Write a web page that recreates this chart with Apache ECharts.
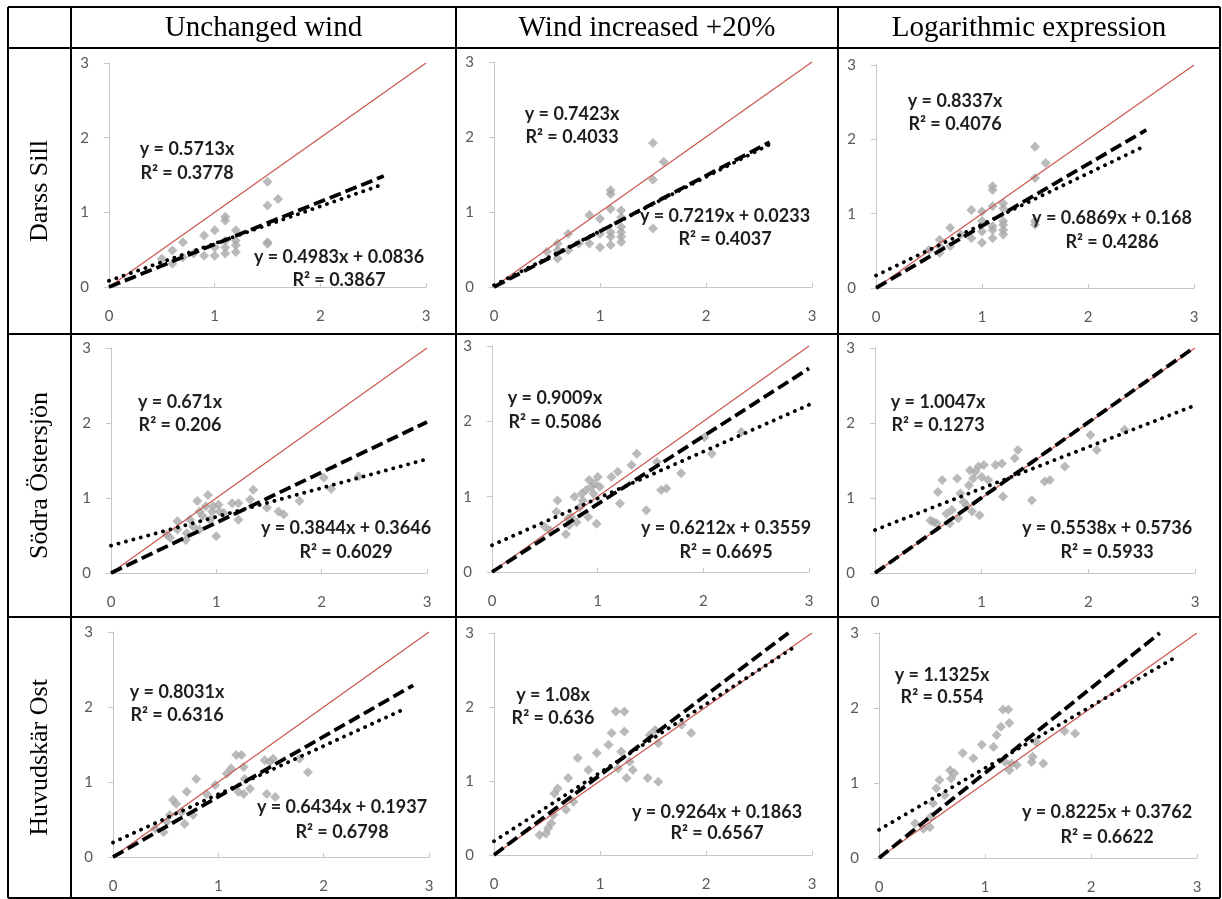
<!DOCTYPE html>
<html><head><meta charset="utf-8">
<script src="https://cdn.jsdelivr.net/npm/echarts@6/dist/echarts.min.js"></script>
<style>html,body{margin:0;padding:0;background:#fff}#c{width:1222px;height:899px}</style>
</head><body><div id="c"></div>
<script>
// ---------- data ----------
const columnTitles = ['Unchanged wind', 'Wind increased +20%', 'Logarithmic expression'];
const rowTitles = ['Darss Sill', 'Södra Östersjön', 'Huvudskär Ost'];
const axisTicks = [0, 1, 2, 3];

const darssUnchanged = [[0.5,0.38],[0.6,0.49],[0.6,0.31],[0.7,0.60],[0.7,0.40],[0.8,0.45],[0.9,0.69],[0.9,0.42],[1.0,0.76],[1.0,0.42],[1.0,0.53],[1.1,0.94],[1.1,0.89],[1.1,0.62],[1.1,0.53],[1.1,0.45],[1.2,0.76],[1.2,0.62],[1.2,0.56],[1.2,0.47],[1.5,1.41],[1.5,1.09],[1.5,0.60],[1.5,0.58],[1.6,1.18]];
const darssWind20 = [[0.5,0.47],[0.6,0.58],[0.6,0.38],[0.6,0.49],[0.7,0.71],[0.7,0.49],[0.8,0.58],[0.9,0.96],[0.9,0.58],[1.0,0.91],[1.0,0.71],[1.0,0.53],[1.1,1.29],[1.1,1.24],[1.1,1.04],[1.1,0.73],[1.1,0.67],[1.1,0.56],[1.2,1.02],[1.2,0.93],[1.2,0.80],[1.2,0.73],[1.2,0.67],[1.2,0.60],[1.5,1.92],[1.5,1.43],[1.5,0.78],[1.6,1.67]];
const darssLog = [[0.5,0.51],[0.6,0.65],[0.6,0.47],[0.6,0.56],[0.7,0.81],[0.7,0.56],[0.8,0.72],[0.9,1.05],[0.9,0.67],[1.0,1.03],[1.0,0.90],[1.0,0.76],[1.0,0.61],[1.1,1.37],[1.1,1.32],[1.1,1.10],[1.1,0.83],[1.1,0.78],[1.1,0.67],[1.2,1.14],[1.2,1.07],[1.2,0.90],[1.2,0.85],[1.2,0.78],[1.2,0.72],[1.5,1.90],[1.5,1.48],[1.5,0.90],[1.5,0.85],[1.6,1.68]];

const sodraUnchanged = [[0.53,0.51],[0.56,0.47],[0.63,0.69],[0.63,0.58],[0.71,0.44],[0.72,0.53],[0.75,0.71],[0.78,0.62],[0.82,0.96],[0.84,0.82],[0.84,0.58],[0.87,0.76],[0.90,0.89],[0.92,1.04],[0.94,0.71],[0.96,0.82],[0.97,0.89],[1.00,0.49],[1.02,0.91],[1.03,0.82],[1.07,0.80],[1.15,0.93],[1.21,0.71],[1.21,0.93],[1.32,0.98],[1.35,1.11],[1.48,0.87],[1.59,0.82],[1.64,0.78],[1.79,0.96],[2.02,1.27],[2.09,1.12],[2.35,1.29]];
const sodraWind20 = [[0.50,0.60],[0.55,0.55],[0.61,0.80],[0.62,0.95],[0.70,0.50],[0.72,0.71],[0.73,0.62],[0.75,0.73],[0.78,1.00],[0.80,0.66],[0.83,0.86],[0.85,1.04],[0.86,0.95],[0.89,1.09],[0.91,0.73],[0.92,1.22],[0.94,1.13],[0.96,1.04],[0.97,1.17],[0.99,0.64],[1.00,1.26],[1.02,1.13],[1.13,1.26],[1.19,1.33],[1.21,0.91],[1.32,1.42],[1.37,1.57],[1.46,0.82],[1.56,1.46],[1.60,1.09],[1.65,1.11],[1.79,1.31],[2.01,1.79],[2.08,1.57],[2.36,1.86]];
const sodraLog = [[0.52,0.70],[0.55,0.68],[0.58,0.66],[0.59,1.08],[0.63,1.24],[0.67,0.79],[0.70,0.66],[0.72,0.84],[0.77,1.26],[0.78,0.73],[0.80,1.06],[0.83,0.95],[0.86,0.90],[0.88,1.17],[0.89,1.37],[0.91,0.82],[0.92,1.26],[0.94,1.35],[0.97,1.42],[0.98,0.77],[1.00,1.28],[1.02,1.44],[1.06,1.24],[1.13,1.44],[1.19,1.46],[1.20,1.02],[1.31,1.53],[1.34,1.64],[1.47,0.97],[1.59,1.22],[1.64,1.24],[1.78,1.42],[2.02,1.84],[2.08,1.64],[2.34,1.91]];

const huvudUnchanged = [[0.40,0.38],[0.48,0.33],[0.51,0.47],[0.54,0.56],[0.57,0.76],[0.60,0.71],[0.65,0.60],[0.68,0.44],[0.70,0.87],[0.76,0.56],[0.79,1.04],[0.89,0.84],[0.97,0.96],[1.08,1.11],[1.12,1.18],[1.17,1.36],[1.19,0.87],[1.22,1.36],[1.24,1.20],[1.24,0.84],[1.25,1.04],[1.30,0.91],[1.44,1.29],[1.46,0.84],[1.49,1.27],[1.52,1.31],[1.54,0.80],[1.77,1.31],[1.85,1.13]];
const huvudWind20 = [[0.43,0.27],[0.49,0.29],[0.51,0.36],[0.54,0.43],[0.56,0.54],[0.57,0.83],[0.60,0.90],[0.68,0.61],[0.70,1.04],[0.75,0.72],[0.79,1.31],[0.89,1.15],[0.97,1.38],[1.08,1.49],[1.11,1.65],[1.15,1.94],[1.17,1.17],[1.20,1.40],[1.23,1.94],[1.23,1.67],[1.25,1.04],[1.28,1.26],[1.31,1.15],[1.45,1.04],[1.47,1.62],[1.52,1.69],[1.55,0.99],[1.55,1.51],[1.77,1.76],[1.86,1.65]];
const huvudLog = [[0.34,0.46],[0.42,0.39],[0.48,0.41],[0.49,0.55],[0.51,0.73],[0.54,0.93],[0.57,1.04],[0.62,0.84],[0.67,1.17],[0.68,1.06],[0.71,1.13],[0.79,1.40],[0.89,1.33],[0.97,1.51],[1.08,1.48],[1.11,1.64],[1.15,1.75],[1.17,1.98],[1.19,1.28],[1.22,1.98],[1.23,1.80],[1.23,1.17],[1.25,1.26],[1.30,1.24],[1.44,1.28],[1.45,1.35],[1.48,1.55],[1.55,1.26],[1.75,1.69],[1.85,1.66]];

const panelPoints = [darssUnchanged, darssWind20, darssLog, sodraUnchanged, sodraWind20, sodraLog, huvudUnchanged, huvudWind20, huvudLog];

// trendline y = a x (through origin)
const originSlopes = [0.5713, 0.7423, 0.8337, 0.671, 0.9009, 1.0047, 0.8031, 1.08, 1.1325];
const originR2 = [0.3778, 0.4033, 0.4076, 0.206, 0.5086, 0.1273, 0.6316, 0.636, 0.554];
// trendline y = b x + c
const linSlopes = [0.4983, 0.7219, 0.6869, 0.3844, 0.6212, 0.5538, 0.6434, 0.9264, 0.8225];
const linIntercepts = [0.0836, 0.0233, 0.168, 0.3646, 0.3559, 0.5736, 0.1937, 0.1863, 0.3762];
const linR2 = [0.3867, 0.4037, 0.4286, 0.6029, 0.6695, 0.5933, 0.6798, 0.6567, 0.6622];
// x extent of the trendlines
const dashEnd = [2.6, 2.6, 2.55, 3, 3, 3, 2.85, 2.85, 2.85];
const dotEnd = [2.6, 2.6, 2.55, 3, 3, 3, 2.78, 2.85, 2.8];

// ---------- layout (pixels) ----------
const gridBoxes = [[109,63,317,224],[494,62,318,225],[876,65,318,223],[111,348,316,225],[492,346,317,226],[875,348,320,225],[113,632,316,225],[494,633,318,222],[879,633,318,225]];
const labelPos = [
  [187,149,173, 339,257,280],
  [572,114,137, 725,216,239],
  [955,101,124, 1112,218,242],
  [180,402,425, 346,528,552],
  [555,398,422, 726,528,552],
  [938,402,425, 1107,528,552],
  [177,692,715, 342,807,832],
  [553,695,718, 717,812,833],
  [942,675,697, 1107,812,837]
];
const colX = [8, 71, 456, 838, 1220];
const rowY = [7, 48, 334, 617, 898];

const chart = echarts.init(document.getElementById('c'));
const grids = [], xAxes = [], yAxes = [], series = [], graphics = [];
const axisCol = '#c6c6c6';
const eqFont = 'bold 18px Lato';

panelPoints.forEach((pts, i) => {
  const b = gridBoxes[i];
  grids.push({left: b[0], top: b[1], width: b[2], height: b[3], containLabel: false});
  xAxes.push({gridIndex: i, type: 'value', min: axisTicks[0], max: axisTicks[axisTicks.length-1], interval: 1,
    axisLine: {show: true, onZero: false, lineStyle: {color: axisCol, width: 1}},
    axisTick: {show: true, inside: true, length: 4, lineStyle: {color: axisCol}},
    splitLine: {show: false},
    axisLabel: {color: '#595959', fontSize: 15, fontFamily: 'Lato', margin: 22}});
  yAxes.push({gridIndex: i, type: 'value', min: axisTicks[0], max: axisTicks[axisTicks.length-1], interval: 1,
    axisLine: {show: true, onZero: false, lineStyle: {color: axisCol, width: 1}},
    axisTick: {show: true, inside: false, length: 5, lineStyle: {color: axisCol}},
    splitLine: {show: false},
    axisLabel: {color: '#595959', fontSize: 15, fontFamily: 'Lato', margin: 20}});
  series.push({type: 'scatter', xAxisIndex: i, yAxisIndex: i, data: pts, symbol: 'diamond', symbolSize: 10,
    itemStyle: {color: '#a9a9a9'}, z: 2, silent: true});
  series.push({type: 'line', xAxisIndex: i, yAxisIndex: i, data: [[0,0],[3,3]], showSymbol: false, symbol: 'none',
    lineStyle: {color: '#cc5a55', width: 1.3}, z: 3, silent: true});
  const a = originSlopes[i];
  const xa = Math.min(dashEnd[i], 3 / a);
  series.push({type: 'line', xAxisIndex: i, yAxisIndex: i, data: [[0,0],[xa, a*xa]], showSymbol: false, symbol: 'none',
    lineStyle: {color: '#000', width: 3.8, type: [12, 5]}, z: 4, silent: true});
  const s = linSlopes[i], c = linIntercepts[i];
  const xb = Math.min(dotEnd[i], (3 - c) / s);
  series.push({type: 'line', xAxisIndex: i, yAxisIndex: i, data: [[0,c],[xb, s*xb + c]], showSymbol: false, symbol: 'none',
    lineStyle: {color: '#000', width: 3.8, type: [0.1, 7.6], cap: 'round'}, z: 5, silent: true});
  const p = labelPos[i];
  const txt = (t, x, y) => graphics.push({type: 'text', x: x, y: y, z: 100,
    style: {text: t, font: eqFont, fill: '#1e1e1e', textAlign: 'center', textVerticalAlign: 'middle'}});
  txt('y = ' + a + 'x', p[0], p[1]);
  txt('R\u00b2 = ' + originR2[i], p[0], p[2]);
  txt('y = ' + s + 'x + ' + c, p[3], p[4]);
  txt('R\u00b2 = ' + linR2[i], p[3], p[5]);
});

// table borders
colX.forEach(x => graphics.push({type: 'line', shape: {x1: x, y1: rowY[0], x2: x, y2: rowY[rowY.length-1]}, style: {stroke: '#000', lineWidth: 2}, z: 50}));
rowY.forEach(y => graphics.push({type: 'line', shape: {x1: colX[0], y1: y, x2: colX[colX.length-1], y2: y}, style: {stroke: '#000', lineWidth: 2}, z: 50}));
// headers
columnTitles.forEach((t, j) => graphics.push({type: 'text', x: (colX[j+1] + colX[j+2]) / 2, y: (rowY[0] + rowY[1]) / 2 + 1, z: 60,
  style: {text: t, font: '29px "Liberation Serif"', fill: '#000', textAlign: 'center', textVerticalAlign: 'middle'}}));
rowTitles.forEach((t, k) => graphics.push({type: 'text', x: (colX[0] + colX[1]) / 2 + 1, y: (rowY[k+1] + rowY[k+2]) / 2, rotation: Math.PI / 2, z: 60,
  style: {text: t, font: '26px "Liberation Serif"', fill: '#000', textAlign: 'center', textVerticalAlign: 'middle'}}));

chart.setOption({animation: false, backgroundColor: '#fff', grid: grids, xAxis: xAxes, yAxis: yAxes, series: series, graphic: graphics});
</script></body></html>
